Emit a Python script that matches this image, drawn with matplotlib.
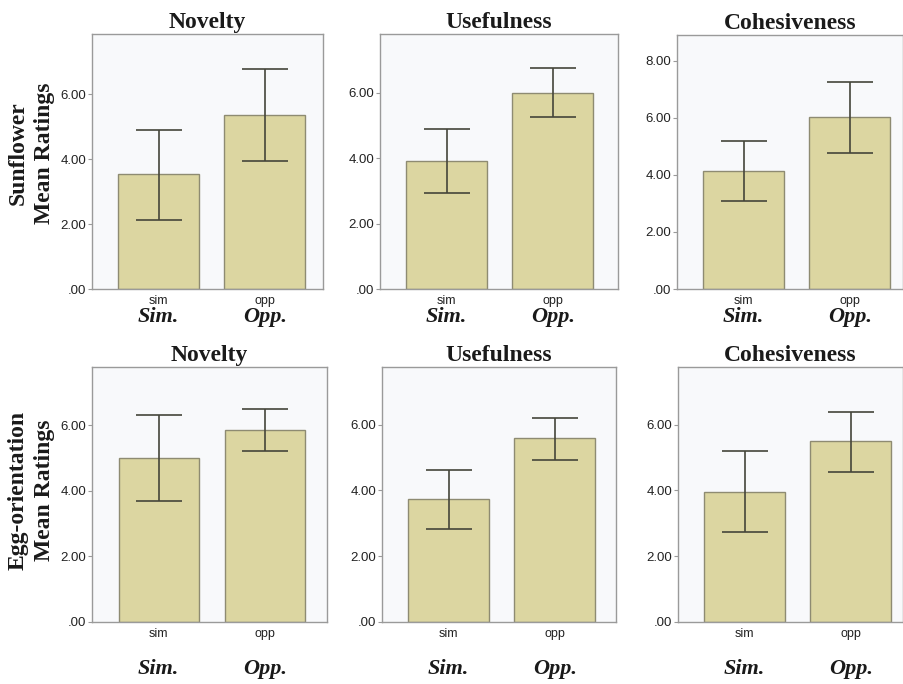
import matplotlib.pyplot as plt
from matplotlib.ticker import FuncFormatter

# values (mean, error bar low, error bar high)
groups = ['sim', 'opp']
group_labels = ['Sim.', 'Opp.']
measures = ['Novelty', 'Usefulness', 'Cohesiveness']
rows = ['Sunflower\nMean Ratings', 'Egg-orientation\nMean Ratings']

sun_means = [[3.53, 5.37], [3.92, 6.00], [4.15, 6.04]]
sun_lo = [[2.12, 3.94], [2.94, 5.27], [3.09, 4.76]]
sun_hi = [[4.91, 6.77], [4.89, 6.76], [5.20, 7.24]]

egg_means = [[5.00, 5.85], [3.74, 5.59], [3.95, 5.51]]
egg_lo = [[3.69, 5.20], [2.84, 4.92], [2.74, 4.57]]
egg_hi = [[6.32, 6.48], [4.61, 6.21], [5.19, 6.39]]

ymax = [[7.85, 7.8, 8.9], [7.77, 7.75, 7.75]]
yticks = [[[0, 2, 4, 6], [0, 2, 4, 6], [0, 2, 4, 6, 8]],
          [[0, 2, 4, 6], [0, 2, 4, 6], [0, 2, 4, 6]]]

W, H = 904, 684
fig = plt.figure(figsize=(W / 100, H / 100), dpi=100)

# axes boxes in pixels: (left, right, top, bottom)
boxes = [[(92, 323, 34, 289), (380, 618, 34, 289), (677, 903, 35, 289)],
         [(92, 327, 367, 622), (382, 616, 367, 622), (678, 903, 367, 622)]]
label_y = [317, 669]   # Sim./Opp. centre line, pixels from top

bar_col = '#dcd6a1'
edge_col = '#8e8b72'
err_col = '#45453a'
frame_col = '#9a9a9a'
serif = 'Liberation Serif'
sans = 'Liberation Sans'

fmt = FuncFormatter(lambda v, p: '.00' if v == 0 else f'{v:.2f}')
data = [(sun_means, sun_lo, sun_hi), (egg_means, egg_lo, egg_hi)]

for r in range(2):
    means, lo, hi = data[r]
    for c in range(3):
        l, rt, t, b = boxes[r][c]
        ax = fig.add_axes([l / W, 1 - b / H, (rt - l) / W, (b - t) / H])
        ax.set_facecolor('#f8f9fb')
        x = [0, 1]
        m = means[c]
        yerr = [[m[i] - lo[c][i] for i in range(2)], [hi[c][i] - m[i] for i in range(2)]]
        ax.bar(x, m, width=0.76, color=bar_col, edgecolor=edge_col, linewidth=1.0, zorder=2)
        ax.errorbar(x, m, yerr=yerr, fmt='none', ecolor=err_col, elinewidth=1.2,
                    capsize=16.5, capthick=1.2, zorder=3)
        x0 = -0.63
        ax.set_xlim(x0, x0 + (rt - l) / 106)
        ax.set_ylim(0, ymax[r][c])
        ax.set_yticks(yticks[r][c])
        ax.yaxis.set_major_formatter(fmt)
        ax.set_xticks(x)
        ax.set_xticklabels(groups)
        ax.tick_params(axis='x', length=0, pad=4, labelsize=9, labelcolor='#222222')
        ax.tick_params(axis='y', length=3, width=0.8, color=frame_col, pad=1,
                       labelsize=9.5, labelcolor='#222222')
        for lab in ax.get_xticklabels() + ax.get_yticklabels():
            lab.set_family(sans)
        for s in ax.spines.values():
            s.set_color(frame_col)
            s.set_linewidth(1.0)
        ax.set_title(measures[c], fontsize=17, fontweight='bold', family=serif,
                     color='#1a1a1a', pad=4)
        for i in range(2):
            ax.annotate(group_labels[i], xy=(x[i], 1 - label_y[r] / H),
                        xycoords=('data', 'figure fraction'), ha='center', va='center',
                        fontsize=16, fontweight='bold', fontstyle='italic', family=serif,
                        color='#1a1a1a', annotation_clip=False)

fig.text(31 / W, 1 - 153 / H, rows[0], rotation=90, ha='center', va='center',
         multialignment='center', fontsize=17, fontweight='bold', family=serif,
         color='#1a1a1a', linespacing=1.35)
fig.text(31 / W, 1 - 490 / H, rows[1], rotation=90, ha='center', va='center',
         multialignment='center', fontsize=17, fontweight='bold', family=serif,
         color='#1a1a1a', linespacing=1.35)

fig.savefig('out.png', dpi=100, facecolor='white')
